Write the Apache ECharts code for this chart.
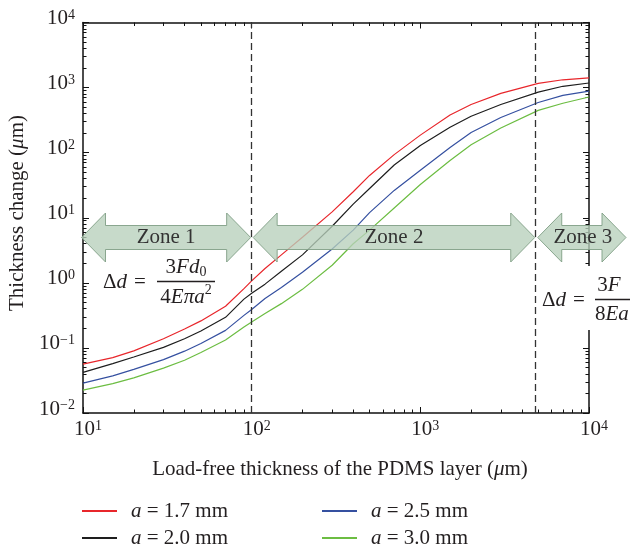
<!DOCTYPE html>
<html>
<head>
<meta charset="utf-8">
<script src="https://cdn.jsdelivr.net/npm/echarts@6/dist/echarts.min.js"></script>
<style>html,body{margin:0;padding:0;background:#fff;}#c{width:630px;height:552px;}</style>
</head>
<body>
<div id="c"></div>
<script>
// ---- data ----
const thickness = [10,15,20,30,40,50,70,90,100,120,150,200,300,400,500,700,1000,1500,2000,3000,5000,7000,10000];
const change17 = [0.0562,0.0708,0.0902,0.138,0.195,0.260,0.437,0.813,1.07,1.66,2.69,5.01,12.3,25.1,44.7,93.3,186,380,550,813,1161,1318,1413];
const change20 = [0.0422,0.0575,0.0724,0.102,0.138,0.182,0.295,0.562,0.692,0.955,1.51,2.69,7.41,16.2,28.2,64.6,129,245,363,550,851,1047,1175];
const change25 = [0.0288,0.0372,0.0468,0.0661,0.0891,0.117,0.186,0.316,0.389,0.575,0.851,1.45,3.31,6.46,12.0,26.3,53.7,120,204,347,589,759,881];
const change30 = [0.0224,0.0282,0.0347,0.0490,0.0646,0.0851,0.132,0.209,0.251,0.339,0.479,0.794,1.86,3.98,6.46,14.1,32.4,75.9,132,240,447,575,716];
const seriesNames = ['a = 1.7 mm','a = 2.0 mm','a = 2.5 mm','a = 3.0 mm'];
const seriesColors = ['#e8262b','#1e1e1e','#3550a0','#6cbd42'];
const zoneBounds = [100, 4800];
const zoneLabels = ['Zone 1','Zone 2','Zone 3'];
const xTicks = [10, 100, 1000, 10000];
const yTicks = [0.01, 0.1, 1, 10, 100, 1000, 10000];
const minorMultipliers = [2,3,4,5,6,7,8,9];
const xTitle = 'Load-free thickness of the PDMS layer ({i|μ}m)';
const yTitle = 'Thickness change ({i|μ}m)';

const F = '"Liberation Serif", "DejaVu Serif", serif';
const C = '#231f20';
const FS = 21;

function supLabel(v){
  const e = Math.round(Math.log10(v));
  return '{b|10}{s|' + (e < 0 ? '\u2212' + (-e) : e) + '}';
}
const supRich = {
  b: {fontSize: FS, fontFamily: F, color: C, lineHeight: 21, verticalAlign: 'bottom', padding: [8,0,0,0]},
  s: {fontSize: 14, fontFamily: F, color: C, lineHeight: 14, verticalAlign: 'top'}
};

function minorsOf(ticks){
  const out = [];
  for (let i = 0; i < ticks.length - 1; i++) minorMultipliers.forEach(m => out.push(+(ticks[i] * m).toPrecision(6)));
  return out;
}
const xMinor = minorsOf(xTicks);
const yMinor = minorsOf(yTicks);

const chart = echarts.init(document.getElementById('c'), null, {renderer: 'canvas'});

const allSeries = [change17, change20, change25, change30];
const series = allSeries.map((vals, k) => ({
  name: seriesNames[k],
  type: 'line',
  color: seriesColors[k],
  data: thickness.map((x, i) => [x, vals[i]]),
  xAxisIndex: 0, yAxisIndex: 0,
  showSymbol: false,
  symbol: 'none',
  smooth: false,
  lineStyle: {width: 1.2, color: seriesColors[k]},
  silent: true,
  z: 3,
  markLine: k === 0 ? {
    silent: true,
    symbol: ['none','none'],
    label: {show: false},
    lineStyle: {type: [7,4], color: '#333', width: 1.3},
    data: zoneBounds.map(v => ({xAxis: v}))
  } : undefined
}));

function axisDef(isX, pos, showLabel, minor){
  const ticks = isX ? xTicks : yTicks;
  const a = {
    type: 'log', logBase: 10, min: ticks[0], max: ticks[ticks.length-1], position: pos,
    axisLine: {show: !minor, onZero: false, lineStyle: {color: '#111', width: 1.5}},
    axisTick: {show: true, inside: true, length: minor ? 3.5 : 6, lineStyle: {color: '#111', width: 1}},
    minorTick: {show: false},
    splitLine: {show: false},
    minorSplitLine: {show: false},
    axisLabel: showLabel ? (isX
      ? {show: true, margin: 6, formatter: supLabel, rich: supRich, padding: [0,0,0,10]}
      : {show: true, margin: 8, formatter: supLabel, rich: supRich, padding: [0,0,8,0]})
      : {show: false}
  };
  if (minor) a.axisTick.customValues = isX ? xMinor : yMinor;
  return a;
}

const legendPos = [[82,500],[82,527],[322,500],[322,527]];
const legends = seriesNames.map((n, k) => ({
  data: [n],
  left: legendPos[k][0], top: legendPos[k][1],
  icon: 'rect', itemWidth: 35, itemHeight: 2,
  selectedMode: false,
  padding: 0,
  formatter: s => '{i|a}' + s.slice(1),
  textStyle: {fontFamily: F, fontSize: FS, color: C, lineHeight: 22, padding: [0,0,0,9],
    rich: {i: {fontFamily: F, fontSize: FS, fontStyle: 'italic', color: C}}}
}));

chart.setOption({
  animation: false,
  backgroundColor: '#fff',
  grid: {left: 83, top: 18, width: 506, height: 395, containLabel: false},
  xAxis: [axisDef(true,'bottom',true,false), axisDef(true,'top',false,false), axisDef(true,'bottom',false,true), axisDef(true,'top',false,true)],
  yAxis: [axisDef(false,'left',true,false), axisDef(false,'right',false,false), axisDef(false,'left',false,true), axisDef(false,'right',false,true)],
  legend: legends,
  series: series
});

// ---- annotations ----
const px = v => chart.convertToPixel({xAxisIndex: 0}, v);
const gL = px(xTicks[0]), gR = px(xTicks[xTicks.length-1]);
const gEls = [];

function arrow(l, r, cy, hl, hh, bh){
  return [[l,cy],[l+hl,cy-hh],[l+hl,cy-bh],[r-hl,cy-bh],[r-hl,cy-hh],[r,cy],[r-hl,cy+hh],[r-hl,cy+bh],[l+hl,cy+bh],[l+hl,cy+hh]];
}
const cy = 237.5;
const arrowSpans = [
  [gL - 1.5, px(zoneBounds[0]) - 1],
  [px(zoneBounds[0]) + 1.5, px(zoneBounds[1]) - 0.5],
  [px(zoneBounds[1]) + 2.5, gR + 37]
];
const arrowStyle = {fill: 'rgba(183,207,187,0.78)', stroke: 'rgba(128,158,133,0.9)', lineWidth: 1};
arrowSpans.forEach((s, i) => {
  gEls.push({type: 'polygon', z: 20, silent: true, shape: {points: arrow(s[0], s[1], cy, 24, 24.5, 12)}, style: arrowStyle});
  gEls.push({type: 'text', z: 21, silent: true, x: (s[0] + s[1]) / 2 + (i === 2 ? 1 : 0), y: cy,
    style: {text: zoneLabels[i], font: FS + 'px ' + F, fill: '#333', align: 'center', verticalAlign: 'middle'}});
});

// formula pieces, laid out with measured widths
const mctx = document.createElement('canvas').getContext('2d');
function fontOf(p){ return (p.it ? 'italic ' : '') + (p.s || FS) + 'px ' + F; }
function pieces(x0, y, list, align){
  list.forEach(p => { mctx.font = fontOf(p); p.w = mctx.measureText(p.t).width; });
  const total = list.reduce((a, p) => a + p.w + (p.gap || 0), 0);
  let x = align === 'center' ? x0 - total / 2 : x0;
  list.forEach(p => {
    x += (p.gap || 0);
    gEls.push({type: 'text', z: 22, silent: true, x: x, y: y + (p.dy || 0),
      style: {text: p.t, font: fontOf(p), fill: C, align: 'left', verticalAlign: 'middle'}});
    x += p.w;
  });
}
function bar(x1, x2, y){
  gEls.push({type: 'line', z: 22, silent: true, shape: {x1: x1, y1: y, x2: x2, y2: y}, style: {stroke: C, lineWidth: 1.5}});
}
// formula 1
pieces(103, 282, [{t: '\u0394'}, {t: 'd', it: true}, {t: '='}].map((p, i) => (i === 2 ? Object.assign(p, {gap: 7}) : p)), 'left');
bar(157, 215, 281.5);
pieces(186, 267, [{t: '3'}, {t: 'Fd', it: true}, {t: '0', s: 14, dy: 5}], 'center');
pieces(186, 297, [{t: '4'}, {t: 'E\u03c0a', it: true}, {t: '2', s: 14, dy: -7}], 'center');
// formula 2 (white box covers right axis)
gEls.push({type: 'rect', z: 19, silent: true, shape: {x: 538, y: 266, width: 92, height: 64}, style: {fill: '#fff'}});
pieces(542, 300, [{t: '\u0394'}, {t: 'd', it: true}, {t: '=', gap: 7}], 'left');
bar(595, 632, 299.5);
pieces(609, 285, [{t: '3'}, {t: 'F', it: true}], 'center');
pieces(595, 314, [{t: '8'}, {t: 'Ea', it: true}], 'left');

const tRich = {i: {fontFamily: F, fontSize: FS, color: C, fontStyle: 'italic'}};
gEls.push({type: 'text', z: 22, silent: true, x: 340, y: 469,
  style: {text: xTitle, rich: tRich, font: FS + 'px ' + F, fill: C, align: 'center', verticalAlign: 'middle'}});
gEls.push({type: 'text', z: 22, silent: true, x: 17, y: 213, rotation: Math.PI / 2,
  style: {text: yTitle, rich: tRich, font: FS + 'px ' + F, fill: C, align: 'center', verticalAlign: 'middle'}});

chart.setOption({graphic: {elements: gEls}});
</script>
</body>
</html>
